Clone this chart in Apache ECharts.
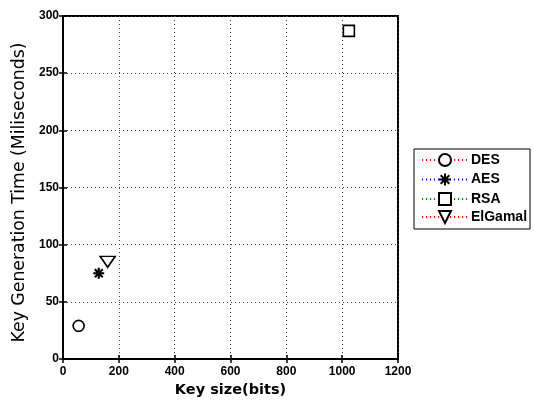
<!DOCTYPE html>
<html><head><meta charset="utf-8">
<script src="https://cdn.jsdelivr.net/npm/echarts@6/dist/echarts.min.js"></script>
<style>html,body{margin:0;padding:0;background:#fff}#c{width:534px;height:400px}</style>
</head><body><div id="c"></div>
<script>
const seriesNames = ['DES', 'AES', 'RSA', 'ElGamal'];
const keySizes = [56, 128, 1024, 160];
const genTimes = [29, 75, 287, 85];
const lineColors = ['#ff0000', '#0000ff', '#008000', '#ff0000'];
const xTitle = 'Key size(bits)';
const yTitle = 'Key Generation Time (Miliseconds)';
const xRange = [0, 1200, 200];
const yRange = [0, 300, 50];

const symbols = [
  'circle',
  'path://M0,-1L0,1M-1,0L1,0M-0.72,-0.72L0.72,0.72M-0.72,0.72L0.72,-0.72',
  'rect',
  'path://M0,0L2,0L1,1.5Z'
];
const symbolSizes = [11, 11, 11, [15, 11]];

const chart = echarts.init(document.getElementById('c'), null, {renderer: 'canvas'});
const labelFont = {color: '#000', fontWeight: 'bold', fontSize: 12, fontFamily: 'Liberation Sans', formatter: v => String(v)};
const gridStyle = {show: true, lineStyle: {color: '#444', type: [1, 3], width: 1}};

chart.setOption({
  animation: false,
  backgroundColor: '#fff',
  grid: {left: 63, top: 16, width: 335, height: 343, show: true, borderColor: '#000', borderWidth: 2,
         containLabel: false, outerBoundsMode: 'none'},
  legend: {
    orient: 'vertical', left: 414, top: 149,
    itemWidth: 46, itemHeight: 15, itemGap: 4, padding: [4, 3, 5, 7],
    borderColor: '#000', borderWidth: 1, backgroundColor: '#fff',
    textStyle: {color: '#000', fontWeight: 'bold', fontSize: 14, fontFamily: 'Liberation Sans', padding: [0, 0, 0, -2]},
    data: seriesNames
  },
  graphic: [{
    type: 'text', x: 19.5, y: 192.5, rotation: Math.PI / 2,
    style: {text: yTitle, fill: '#000', font: 'normal 17.3px "DejaVu Sans"', align: 'center', verticalAlign: 'middle'}
  }],
  xAxis: [{
    type: 'value', min: xRange[0], max: xRange[1], interval: xRange[2],
    name: xTitle, nameLocation: 'middle', nameGap: 24,
    nameTextStyle: {color: '#000', fontWeight: 'bold', fontSize: 14.5, fontFamily: 'DejaVu Sans'},
    axisLine: {show: true, lineStyle: {color: '#000', width: 2}},
    axisTick: {show: true, inside: true, length: 4, lineStyle: {color: '#000', width: 1.5}},
    axisLabel: Object.assign({margin: 7}, labelFont),
    splitLine: gridStyle
  }, {
    type: 'value', position: 'top', min: xRange[0], max: xRange[1], interval: xRange[2],
    axisLine: {show: true, lineStyle: {color: '#000', width: 2}},
    axisTick: {show: true, inside: true, length: 4, lineStyle: {color: '#000', width: 1.5}},
    axisLabel: {show: false}, splitLine: {show: false}
  }],
  yAxis: [{
    type: 'value', min: yRange[0], max: yRange[1], interval: yRange[2],
    axisLine: {show: true, lineStyle: {color: '#000', width: 2}},
    axisTick: {show: true, inside: true, length: 4, lineStyle: {color: '#000', width: 1.5}},
    axisLabel: Object.assign({margin: 4}, labelFont),
    splitLine: gridStyle
  }, {
    type: 'value', position: 'right', min: yRange[0], max: yRange[1], interval: yRange[2],
    axisLine: {show: true, lineStyle: {color: '#000', width: 2}},
    axisTick: {show: true, inside: true, length: 4, lineStyle: {color: '#000', width: 1.5}},
    axisLabel: {show: false}, splitLine: {show: false}
  }],
  series: seriesNames.map((n, i) => ({
    name: n, type: 'line',
    data: [[keySizes[i], genTimes[i]]],
    symbol: symbols[i], symbolSize: symbolSizes[i], showSymbol: true,
    lineStyle: {color: lineColors[i], type: [1, 3], width: 1.2},
    itemStyle: {color: i === 1 ? 'none' : '#fff', borderColor: '#000', borderWidth: i === 1 ? 2.2 : 1.6},
    z: 5
  }))
});
</script></body></html>
